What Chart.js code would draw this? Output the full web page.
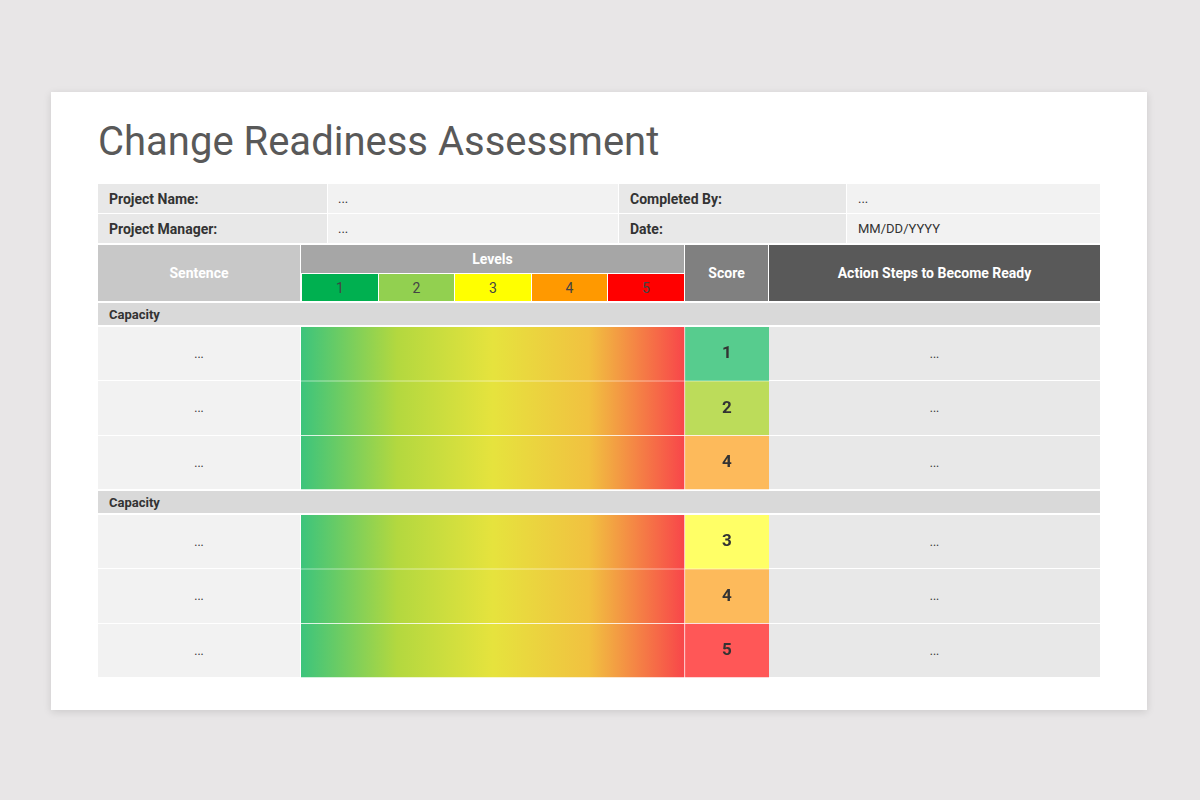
<!DOCTYPE html>
<html><head><meta charset="utf-8">
<script src="https://cdn.jsdelivr.net/npm/chart.js@4/dist/chart.umd.min.js"></script>
<style>
body{margin:0;width:1200px;height:800px;background:#e8e6e7;font-family:Roboto,sans-serif;position:relative;overflow:hidden}
.card{position:absolute;left:51px;top:92px;width:1096px;height:618px;background:#fff;box-shadow:0 2px 8px rgba(0,0,0,0.12)}
.c{position:absolute;box-sizing:border-box;display:flex;align-items:center;font-size:14px;color:#333}
.b{font-weight:700}
.ctr{justify-content:center}
h1{position:absolute;left:98px;top:118px;margin:0;font-weight:400;font-size:40px;color:#595959}
canvas{position:absolute}
</style></head><body>
<div class="card"></div>
<h1>Change Readiness Assessment</h1>
<div id="tbl"></div>
<script>
const infoRows = [['Project Name:', '...', 'Completed By:', '...'], ['Project Manager:', '...', 'Date:', 'MM/DD/YYYY']];
const levelLabels = ['1', '2', '3', '4', '5'];
const levelColors = ['#00b050', '#92d050', '#ffff00', '#ff9900', '#ff0000'];
const groups = ['Capacity', 'Capacity'];
const scores = [[1, 2, 4], [3, 4, 5]];
const scoreColors = { 1: '#57cc8e', 2: '#bcdc5a', 3: '#ffff66', 4: '#fdba5b', 5: '#ff5757' };
const sentences = [['...', '...', '...'], ['...', '...', '...']];
const actions = [['...', '...', '...'], ['...', '...', '...']];

const tbl = document.getElementById('tbl');
function cell(x, y, w, h, bg, txt, cls, style) {
    const d = document.createElement('div');
    d.className = 'c ' + (cls || '');
    d.style.cssText = `left:${x}px;top:${y}px;width:${w}px;height:${h}px;background:${bg};${style || ''}`;
    d.textContent = txt;
    tbl.appendChild(d);
}
infoRows.forEach((r, i) => {
    const y = 184 + i * 30;
    cell(98, y, 229, 29, '#e8e8e8', r[0], 'b', 'padding-left:11px');
    cell(328, y, 290, 29, '#f2f2f2', r[1], '', 'padding-left:10px;font-size:13px');
    cell(619, y, 227, 29, '#e8e8e8', r[2], 'b', 'padding-left:11px');
    cell(847, y, 253, 29, '#f2f2f2', r[3], '', 'padding-left:11px;font-size:13px');
});
// header
cell(98, 245, 202, 56, '#c8c8c8', 'Sentence', 'b ctr', 'color:#fff');
cell(301, 245, 383, 28, '#a6a6a6', 'Levels', 'b ctr', 'color:#fff');
levelLabels.forEach((l, i) => {
    const x0 = 301 + Math.round(i * 383 / 5), x1 = 301 + Math.round((i + 1) * 383 / 5);
    cell(x0 + 1, 274, x1 - x0 - 1, 27, levelColors[i], l, 'ctr', 'color:#444');
});
cell(685, 245, 83, 56, '#808080', 'Score', 'b ctr', 'color:#fff');
cell(769, 245, 331, 56, '#595959', 'Action Steps to Become Ready', 'b ctr', 'color:#fff');

const groupTops = [303, 491];
groups.forEach((g, gi) => {
    const gy = groupTops[gi];
    cell(98, gy, 1002, 22, '#d9d9d9', g, 'b', 'padding-left:11px;font-size:13px');
    const top = gy + 24, h = 163;
    sentences[gi].forEach((s, r) => {
        const y0 = top + Math.round(r * h / 3), y1 = top + Math.round((r + 1) * h / 3);
        cell(98, y0, 202, y1 - y0 - 1, '#f2f2f2', s, 'ctr', 'font-size:12px');
        cell(769, y0, 331, y1 - y0 - 1, '#e8e8e8', actions[gi][r], 'ctr', 'font-size:12px');
    });
    const cv = document.createElement('canvas');
    cv.style.cssText = `left:301px;top:${top}px;width:468px;height:${h}px`;
    document.body.appendChild(cv);
    const scoreW = 5 * 84 / 384;
    new Chart(cv, {
        type: 'bar',
        data: {
            labels: scores[gi].map((_, i) => 'r' + i),
            datasets: [{
                data: scores[gi].map(() => 5),
                backgroundColor: ctx => {
                    const ch = ctx.chart, a = ch.chartArea;
                    if (!a) return '#e6e33d';
                    const x = ch.scales.x;
                    const gr = ch.ctx.createLinearGradient(x.getPixelForValue(0), 0, x.getPixelForValue(5), 0);
                    gr.addColorStop(0, '#3cc47c');
                    gr.addColorStop(0.25, '#b3d83f');
                    gr.addColorStop(0.5, '#e6e33d');
                    gr.addColorStop(0.75, '#f1c140');
                    gr.addColorStop(1, '#f8454a');
                    return gr;
                },
                borderColor: '#fff', borderWidth: { bottom: 1, right: 1 }, borderSkipped: false
            }, {
                data: scores[gi].map(() => scoreW),
                backgroundColor: scores[gi].map(s => scoreColors[s]),
                borderColor: '#fff', borderWidth: { bottom: 1 }, borderSkipped: false
            }]
        },
        options: {
            indexAxis: 'y', responsive: false, animation: false,
            devicePixelRatio: 1,
            datasets: { bar: { categoryPercentage: 1, barPercentage: 1 } },
            layout: { padding: 0 },
            scales: {
                x: { stacked: true, display: false, min: 0, max: 5 + scoreW },
                y: { stacked: true, display: false }
            },
            plugins: { legend: { display: false }, tooltip: { enabled: false } }
        },
        plugins: [{
            id: 'scoreText',
            afterDatasetsDraw(ch) {
                const c = ch.ctx;
                ch.getDatasetMeta(1).data.forEach((el, i) => {
                    c.save();
                    c.font = 'bold 17px Roboto';
                    c.fillStyle = '#333';
                    c.textAlign = 'center'; c.textBaseline = 'middle';
                    c.fillText(String(scores[gi][i]), (el.x + el.base) / 2, el.y);
                    c.restore();
                });
            }
        }]
    });
    cv.style.width = '468px'; cv.style.height = h + 'px';
});
</script>
</body></html>
